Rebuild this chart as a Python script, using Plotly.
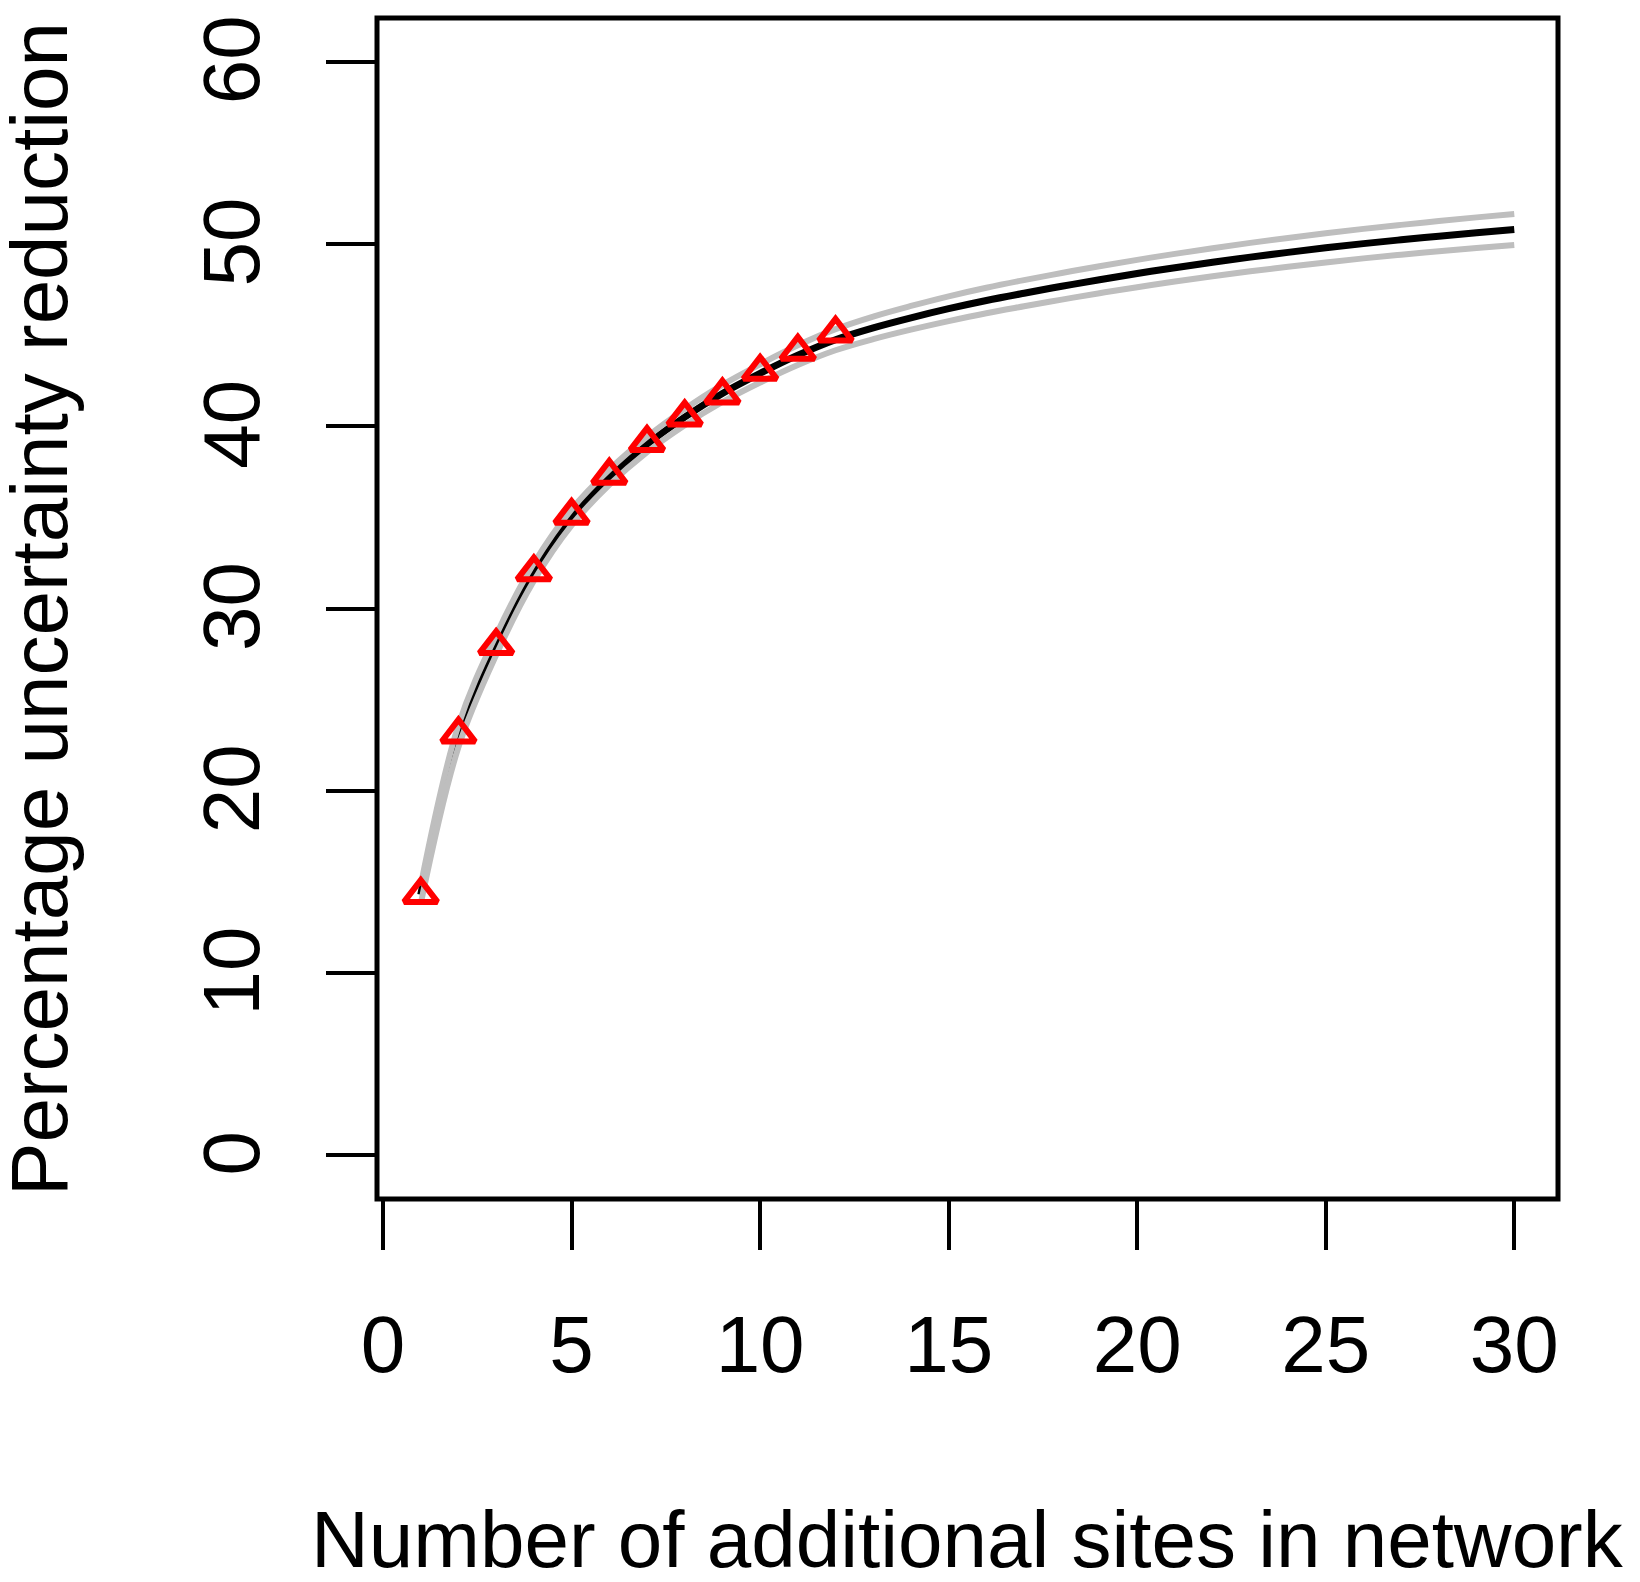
import plotly.graph_objects as go

# sites added to network
sites = list(range(1, 31))

# fitted curve and its band
fit_mean = [14.3, 23.0, 28.0, 32.0, 35.0, 37.2, 39.0, 40.5, 41.8, 42.9,
            43.9, 44.75, 45.4, 45.95, 46.45, 46.9, 47.3, 47.68, 48.04, 48.38,
            48.7, 49.0, 49.28, 49.54, 49.79, 50.02, 50.23, 50.43, 50.62, 50.8]
fit_upper = [14.8, 23.6, 28.55, 32.48, 35.44, 37.62, 39.42, 40.94, 42.27, 43.4,
             44.44, 45.33, 46.02, 46.6, 47.13, 47.6, 48.02, 48.41, 48.78, 49.13,
             49.46, 49.77, 50.06, 50.33, 50.59, 50.83, 51.05, 51.26, 51.46, 51.65]
fit_lower = [13.8, 22.4, 27.45, 31.52, 34.56, 36.78, 38.58, 40.06, 41.33, 42.4,
             43.36, 44.17, 44.78, 45.3, 45.77, 46.2, 46.58, 46.95, 47.3, 47.63,
             47.94, 48.23, 48.5, 48.75, 48.99, 49.21, 49.41, 49.6, 49.78, 49.95]

# observed reductions
obs_sites = list(range(1, 13))
obs_reduction = [14.3, 23.1, 27.95, 32.0, 35.1, 37.3, 39.1, 40.5, 41.7, 43.0, 44.1, 45.1]

x_ticks = [0, 5, 10, 15, 20, 25, 30]
y_ticks = [0, 10, 20, 30, 40, 50, 60]

FONT = "Liberation Sans, Arial, Helvetica, sans-serif"

fig = go.Figure()

# black fit first, grey band lines drawn over it
fig.add_trace(go.Scatter(x=sites, y=fit_mean, mode="lines",
                         line=dict(color="black", width=7, shape="spline")))
fig.add_trace(go.Scatter(x=sites, y=fit_upper, mode="lines",
                         line=dict(color="#BEBEBE", width=6, shape="spline")))
fig.add_trace(go.Scatter(x=sites, y=fit_lower, mode="lines",
                         line=dict(color="#BEBEBE", width=6, shape="spline")))
fig.add_trace(go.Scatter(x=obs_sites, y=obs_reduction, mode="markers",
                         marker=dict(symbol="triangle-up-open", size=29,
                                     color="#FF0000", line=dict(color="#FF0000", width=6))))

fig.update_layout(
    width=1624, height=1566,
    margin=dict(l=369, r=74, t=10, b=375),
    plot_bgcolor="white", paper_bgcolor="white",
    showlegend=False,
    font=dict(family=FONT, size=80, color="black"),
    shapes=[dict(type="rect", xref="paper", yref="paper", x0=0, x1=1, y0=0, y1=1,
                 line=dict(color="black", width=5))],
    annotations=[
        dict(text="Number of additional sites in network", xref="paper", yref="paper",
             x=0.5, y=-0.2887, xanchor="center", yanchor="middle", showarrow=False,
             font=dict(size=80)),
        dict(text="Percentage uncertainty reduction", xref="paper", yref="paper",
             x=-0.2858, y=0.5, xanchor="center", yanchor="middle", showarrow=False,
             textangle=-90, font=dict(size=80)),
    ],
)

fig.update_xaxes(range=[-0.16, 31.16], tickvals=x_ticks, ticks="outside",
                 ticklen=50, tickwidth=4, tickcolor="black",
                 showline=False, showgrid=False, zeroline=False, automargin=False,
                 ticklabelstandoff=26, ticklabeloverflow="allow",
                 tickfont=dict(size=80))
fig.update_yaxes(range=[-2.4, 62.4], tickvals=y_ticks, ticks="outside",
                 ticklen=50, tickwidth=4, tickcolor="black", tickangle=-90,
                 showline=False, showgrid=False, zeroline=False, automargin=False,
                 ticklabelstandoff=35, ticklabelshift=10, ticklabeloverflow="allow",
                 tickfont=dict(size=80))

fig.write_html("out.html")
